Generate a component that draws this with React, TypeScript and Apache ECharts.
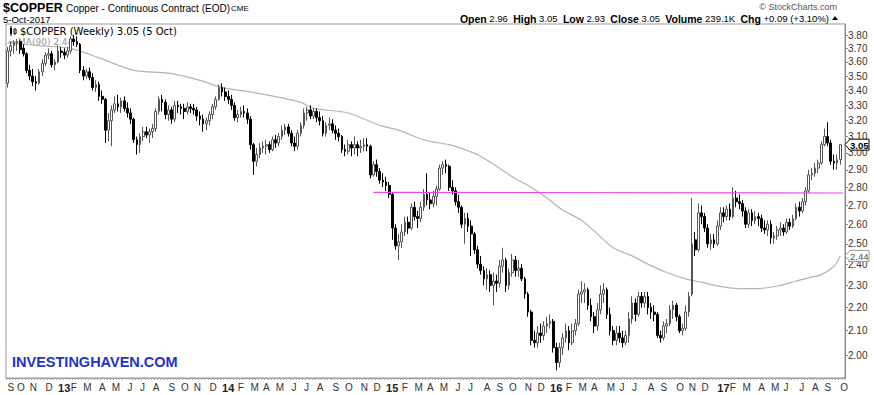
import React, { useEffect, useRef } from "react";
import * as echarts from "echarts";

// ---- weekly candles, first week ending 2012-09-14, last 2017-10-05 ----
const firstWeekUTC = Date.UTC(2012, 8, 14);
const categoryCount = 266; // 265 candles + one empty slot at the right edge

const opens = [
  3.45, 3.68, 3.72, 3.74, 3.75, 3.70, 3.66, 3.54, 3.50, 3.46,
  3.45, 3.53, 3.59, 3.65, 3.66, 3.58, 3.60, 3.68, 3.67, 3.65,
  3.68, 3.77, 3.75, 3.73, 3.54, 3.50, 3.53, 3.49, 3.42, 3.44,
  3.36, 3.34, 3.14, 3.20, 3.27, 3.31, 3.29, 3.33, 3.28, 3.25,
  3.21, 3.08, 3.05, 3.10, 3.13, 3.11, 3.13, 3.15, 3.26, 3.34,
  3.32, 3.24, 3.27, 3.21, 3.30, 3.29, 3.28, 3.26, 3.29, 3.28,
  3.27, 3.23, 3.21, 3.18, 3.20, 3.24, 3.29, 3.34, 3.42, 3.39,
  3.36, 3.34, 3.30, 3.22, 3.24, 3.26, 3.25, 3.21, 3.05, 2.95,
  2.99, 3.03, 3.04, 3.05, 3.02, 3.08, 3.06, 3.10, 3.14, 3.16,
  3.12, 3.06, 3.04, 3.12, 3.17, 3.25, 3.27, 3.23, 3.26, 3.22,
  3.20, 3.12, 3.17, 3.18, 3.14, 3.12, 3.10, 3.02, 3.01, 3.05,
  3.03, 3.05, 3.03, 3.04, 3.05, 3.04, 2.87, 2.93, 2.89, 2.84,
  2.83, 2.81, 2.76, 2.58, 2.49, 2.51, 2.56, 2.61, 2.58, 2.69,
  2.64, 2.63, 2.69, 2.76, 2.73, 2.71, 2.75, 2.79, 2.91, 2.93,
  2.92, 2.80, 2.78, 2.72, 2.69, 2.60, 2.63, 2.59, 2.55, 2.47,
  2.40, 2.37, 2.33, 2.35, 2.30, 2.32, 2.31, 2.39, 2.42, 2.30,
  2.36, 2.42, 2.37, 2.38, 2.33, 2.26, 2.18, 2.06, 2.05, 2.09,
  2.08, 2.12, 2.13, 2.14, 2.03, 1.97, 2.03, 2.07, 2.10, 2.05,
  2.10, 2.13, 2.26, 2.27, 2.28, 2.21, 2.16, 2.12, 2.19, 2.26,
  2.28, 2.17, 2.10, 2.06, 2.09, 2.07, 2.05, 2.08, 2.15, 2.22,
  2.17, 2.25, 2.22, 2.25, 2.20, 2.18, 2.17, 2.08, 2.07, 2.12,
  2.13, 2.19, 2.21, 2.16, 2.10, 2.11, 2.18, 2.26, 2.52, 2.47,
  2.66, 2.64, 2.58, 2.50, 2.52, 2.50, 2.59, 2.66, 2.64, 2.68,
  2.64, 2.74, 2.72, 2.71, 2.67, 2.60, 2.66, 2.62, 2.64, 2.63,
  2.58, 2.57, 2.60, 2.53, 2.54, 2.57, 2.58, 2.56, 2.61, 2.59,
  2.63, 2.69, 2.67, 2.72, 2.78, 2.87, 2.88, 2.91, 2.94, 3.05,
  3.10, 3.06, 2.95, 2.94, 2.96,
];

const highs = [
  3.71, 3.75, 3.76, 3.77, 3.76, 3.73, 3.67, 3.58, 3.55, 3.50,
  3.55, 3.62, 3.67, 3.70, 3.68, 3.62, 3.72, 3.71, 3.70, 3.71,
  3.79, 3.80, 3.79, 3.74, 3.57, 3.55, 3.56, 3.52, 3.47, 3.46,
  3.40, 3.35, 3.25, 3.30, 3.36, 3.37, 3.35, 3.36, 3.32, 3.28,
  3.22, 3.10, 3.12, 3.16, 3.16, 3.15, 3.18, 3.28, 3.36, 3.37,
  3.34, 3.30, 3.29, 3.33, 3.33, 3.31, 3.31, 3.32, 3.31, 3.31,
  3.29, 3.26, 3.24, 3.22, 3.26, 3.31, 3.36, 3.44, 3.45, 3.42,
  3.40, 3.37, 3.32, 3.27, 3.29, 3.30, 3.28, 3.23, 3.06, 3.03,
  3.06, 3.07, 3.08, 3.07, 3.10, 3.11, 3.12, 3.17, 3.18, 3.18,
  3.14, 3.10, 3.14, 3.19, 3.28, 3.29, 3.30, 3.28, 3.28, 3.26,
  3.23, 3.19, 3.22, 3.21, 3.17, 3.15, 3.11, 3.05, 3.08, 3.07,
  3.10, 3.07, 3.08, 3.09, 3.09, 3.05, 2.95, 2.96, 2.91, 2.88,
  2.86, 2.83, 2.77, 2.60, 2.55, 2.60, 2.64, 2.64, 2.71, 2.72,
  2.67, 2.72, 2.79, 2.88, 2.77, 2.78, 2.81, 2.93, 2.95, 2.96,
  2.93, 2.84, 2.80, 2.76, 2.70, 2.66, 2.66, 2.62, 2.56, 2.49,
  2.44, 2.39, 2.38, 2.37, 2.36, 2.35, 2.42, 2.48, 2.43, 2.38,
  2.45, 2.44, 2.42, 2.40, 2.34, 2.27, 2.19, 2.10, 2.12, 2.13,
  2.14, 2.16, 2.17, 2.15, 2.05, 2.05, 2.09, 2.13, 2.12, 2.13,
  2.15, 2.28, 2.32, 2.31, 2.29, 2.24, 2.18, 2.22, 2.30, 2.31,
  2.29, 2.20, 2.12, 2.12, 2.12, 2.10, 2.10, 2.18, 2.25, 2.24,
  2.27, 2.27, 2.27, 2.27, 2.22, 2.21, 2.18, 2.10, 2.14, 2.15,
  2.21, 2.23, 2.22, 2.17, 2.13, 2.21, 2.27, 2.74, 2.56, 2.71,
  2.70, 2.66, 2.60, 2.55, 2.55, 2.62, 2.69, 2.69, 2.70, 2.71,
  2.80, 2.78, 2.76, 2.73, 2.69, 2.68, 2.68, 2.67, 2.66, 2.65,
  2.62, 2.62, 2.62, 2.56, 2.59, 2.61, 2.60, 2.63, 2.63, 2.65,
  2.71, 2.72, 2.74, 2.80, 2.90, 2.91, 2.94, 2.96, 3.07, 3.15,
  3.19, 3.08, 2.99, 2.99, 3.05,
];

const lows = [
  3.42, 3.64, 3.66, 3.68, 3.66, 3.64, 3.52, 3.47, 3.43, 3.40,
  3.44, 3.50, 3.57, 3.62, 3.56, 3.54, 3.59, 3.63, 3.62, 3.63,
  3.66, 3.72, 3.71, 3.52, 3.47, 3.48, 3.47, 3.40, 3.39, 3.33,
  3.31, 3.06, 3.07, 3.04, 3.25, 3.26, 3.25, 3.26, 3.22, 3.18,
  3.06, 2.99, 3.00, 3.07, 3.09, 3.06, 3.09, 3.13, 3.24, 3.26,
  3.21, 3.20, 3.18, 3.19, 3.25, 3.24, 3.21, 3.24, 3.25, 3.24,
  3.20, 3.17, 3.13, 3.14, 3.17, 3.21, 3.27, 3.33, 3.36, 3.33,
  3.31, 3.27, 3.20, 3.19, 3.22, 3.22, 3.18, 3.02, 2.87, 2.92,
  2.97, 3.00, 2.99, 3.00, 3.01, 3.03, 3.04, 3.08, 3.11, 3.10,
  3.04, 3.01, 3.02, 3.10, 3.15, 3.20, 3.21, 3.21, 3.19, 3.17,
  3.10, 3.10, 3.14, 3.12, 3.08, 3.07, 3.00, 2.98, 2.99, 2.98,
  2.99, 2.98, 3.00, 3.01, 3.01, 2.85, 2.86, 2.86, 2.82, 2.80,
  2.78, 2.74, 2.52, 2.47, 2.42, 2.48, 2.54, 2.55, 2.57, 2.62,
  2.58, 2.61, 2.67, 2.70, 2.68, 2.69, 2.70, 2.78, 2.87, 2.88,
  2.78, 2.76, 2.70, 2.66, 2.58, 2.50, 2.56, 2.44, 2.45, 2.38,
  2.35, 2.30, 2.28, 2.27, 2.21, 2.27, 2.29, 2.36, 2.27, 2.28,
  2.34, 2.34, 2.34, 2.32, 2.24, 2.16, 2.04, 2.03, 2.03, 2.05,
  2.06, 2.09, 2.11, 2.01, 1.94, 1.95, 2.00, 2.05, 2.02, 2.04,
  2.08, 2.12, 2.22, 2.22, 2.19, 2.14, 2.09, 2.10, 2.17, 2.22,
  2.15, 2.08, 2.04, 2.04, 2.05, 2.03, 2.04, 2.05, 2.13, 2.14,
  2.16, 2.20, 2.20, 2.17, 2.15, 2.14, 2.07, 2.05, 2.06, 2.09,
  2.12, 2.15, 2.14, 2.09, 2.08, 2.10, 2.16, 2.25, 2.44, 2.46,
  2.60, 2.56, 2.48, 2.47, 2.48, 2.49, 2.57, 2.61, 2.62, 2.62,
  2.63, 2.69, 2.68, 2.64, 2.58, 2.58, 2.59, 2.60, 2.59, 2.56,
  2.55, 2.54, 2.50, 2.50, 2.52, 2.54, 2.54, 2.55, 2.57, 2.58,
  2.62, 2.64, 2.66, 2.70, 2.77, 2.84, 2.86, 2.88, 2.93, 3.04,
  3.04, 2.93, 2.90, 2.90, 2.93,
];

const closes = [
  3.68, 3.72, 3.74, 3.75, 3.69, 3.66, 3.54, 3.50, 3.46, 3.45,
  3.53, 3.59, 3.65, 3.66, 3.58, 3.60, 3.68, 3.67, 3.65, 3.68,
  3.77, 3.75, 3.73, 3.54, 3.50, 3.53, 3.49, 3.42, 3.44, 3.36,
  3.34, 3.14, 3.20, 3.27, 3.31, 3.29, 3.33, 3.28, 3.25, 3.21,
  3.08, 3.05, 3.10, 3.13, 3.11, 3.13, 3.15, 3.26, 3.34, 3.32,
  3.24, 3.27, 3.21, 3.30, 3.29, 3.28, 3.26, 3.29, 3.28, 3.27,
  3.23, 3.21, 3.18, 3.20, 3.24, 3.29, 3.34, 3.42, 3.39, 3.36,
  3.34, 3.30, 3.22, 3.24, 3.26, 3.25, 3.21, 3.05, 2.95, 2.99,
  3.03, 3.04, 3.05, 3.02, 3.08, 3.06, 3.10, 3.14, 3.16, 3.12,
  3.06, 3.04, 3.12, 3.17, 3.25, 3.27, 3.23, 3.26, 3.22, 3.20,
  3.12, 3.17, 3.18, 3.14, 3.12, 3.10, 3.02, 3.01, 3.05, 3.03,
  3.05, 3.03, 3.04, 3.05, 3.04, 2.87, 2.93, 2.89, 2.84, 2.83,
  2.81, 2.76, 2.58, 2.49, 2.51, 2.56, 2.61, 2.58, 2.69, 2.64,
  2.63, 2.69, 2.76, 2.73, 2.71, 2.75, 2.79, 2.91, 2.93, 2.92,
  2.80, 2.78, 2.72, 2.69, 2.60, 2.63, 2.59, 2.55, 2.47, 2.40,
  2.37, 2.33, 2.35, 2.30, 2.32, 2.31, 2.39, 2.42, 2.30, 2.36,
  2.42, 2.37, 2.38, 2.33, 2.26, 2.18, 2.06, 2.05, 2.09, 2.08,
  2.12, 2.13, 2.14, 2.03, 1.97, 2.03, 2.07, 2.10, 2.05, 2.10,
  2.13, 2.26, 2.27, 2.28, 2.21, 2.16, 2.12, 2.19, 2.26, 2.28,
  2.17, 2.10, 2.06, 2.09, 2.07, 2.05, 2.08, 2.15, 2.22, 2.17,
  2.25, 2.22, 2.25, 2.20, 2.18, 2.17, 2.08, 2.07, 2.12, 2.13,
  2.19, 2.21, 2.16, 2.10, 2.11, 2.18, 2.25, 2.50, 2.47, 2.66,
  2.64, 2.58, 2.50, 2.52, 2.50, 2.59, 2.66, 2.64, 2.68, 2.64,
  2.74, 2.72, 2.71, 2.67, 2.60, 2.66, 2.62, 2.64, 2.63, 2.58,
  2.57, 2.60, 2.53, 2.54, 2.57, 2.58, 2.56, 2.61, 2.59, 2.63,
  2.69, 2.67, 2.72, 2.78, 2.87, 2.88, 2.91, 2.94, 3.05, 3.10,
  3.06, 2.95, 2.94, 2.96, 3.05,
];

// MA(90): [week index, value]
const maPoints: [number, number][] = [
  [0, 3.74], [10, 3.72], [20, 3.70], [29, 3.63], [40, 3.54], [51, 3.52],
  [61, 3.47], [68, 3.42], [77, 3.39], [87, 3.35], [93, 3.32], [97, 3.28],
  [108, 3.25], [118, 3.17], [124, 3.14], [129, 3.10], [134, 3.07],
  [140, 3.05], [145, 3.02], [150, 2.98], [155, 2.92], [160, 2.86],
  [166, 2.80], [171, 2.74], [176, 2.675], [182, 2.62], [187, 2.55],
  [192, 2.48], [198, 2.44], [203, 2.40], [209, 2.36], [215, 2.33],
  [220, 2.315], [226, 2.295], [232, 2.285], [238, 2.285], [245, 2.30],
  [250, 2.32], [254, 2.335], [258, 2.35], [262, 2.39], [264, 2.44],
];

// user-drawn horizontal trend line (magenta)
const trendLine: [number, number][] = [[116, 2.772], [265, 2.768]];

const yTickValues = [
  2.0, 2.1, 2.2, 2.3, 2.4, 2.5, 2.6, 2.7, 2.8, 2.9, 3.0,
  3.1, 3.2, 3.3, 3.4, 3.5, 3.6, 3.7, 3.8,
];
const monthLetters = ["J", "F", "M", "A", "M", "J", "J", "A", "S", "O", "N", "D"];

const FONT = '"Liberation Sans", Arial, sans-serif';

function buildWeeks(): string[] {
  const out: string[] = [];
  for (let i = 0; i < categoryCount; i++) {
    const d = new Date(firstWeekUTC + i * 7 * 86400000);
    out.push(d.toISOString().slice(0, 10));
  }
  return out;
}

export default function App() {
  const ref = useRef<HTMLDivElement>(null);

  useEffect(() => {
    const el = ref.current!;
    const chart = echarts.init(el, null, { renderer: "svg" });
    const weeks = buildWeeks();
    const monthOf = (s: string) => parseInt(s.slice(5, 7), 10) - 1;
    const candleData = opens.map((o, i) => [o, closes[i], lows[i], highs[i]]);

    const staticGraphics: any[] = [
      { type: "text", x: 3, y: 1, style: { text: "$COPPER", font: `bold 12.5px ${FONT}`, fill: "#000" } },
      { type: "text", x: 66, y: 3, style: { text: "Copper - Continuous Contract (EOD)", font: `10px ${FONT}`, fill: "#000" } },
      { type: "text", x: 231, y: 4, style: { text: "CME", font: `8px ${FONT}`, fill: "#000" } },
      { type: "text", x: 3, y: 14.5, style: { text: "5-Oct-2017", font: `9.5px ${FONT}`, fill: "#000" } },
      { type: "text", x: 837, y: 2, style: { text: "© StockCharts.com", font: `9px ${FONT}`, fill: "#555", align: "right" } },
      {
        type: "text", x: 829, y: 13,
        style: {
          text: "{b|Open} 2.96  {b|High} 3.05  {b|Low} 2.93  {b|Close} 3.05  {b|Volume} 239.1K  {b|Chg} +0.09 (+3.10%)",
          font: `9.5px ${FONT}`, fill: "#000", align: "right",
          rich: { b: { fontWeight: "bold", fontSize: 10.5, fontFamily: "Liberation Sans, Arial, sans-serif" } },
        },
      },
      { type: "polygon", shape: { points: [[832, 20], [838, 20], [835, 16]] }, style: { fill: "#000" } },
      // legend glyph
      { type: "rect", shape: { x: 10, y: 28, width: 2, height: 6 }, style: { fill: "#000" } },
      { type: "line", shape: { x1: 11, y1: 26, x2: 11, y2: 36 }, style: { stroke: "#000", lineWidth: 1 } },
      { type: "rect", shape: { x: 14, y: 29, width: 2, height: 5 }, style: { fill: "#fff", stroke: "#000", lineWidth: 1 } },
      { type: "text", x: 20, y: 26, style: { text: "$COPPER (Weekly) 3.05 (5 Oct)", font: '10px "DejaVu Sans", Verdana, sans-serif', fill: "#000" } },
      { type: "line", shape: { x1: 9, y1: 42, x2: 17, y2: 42 }, style: { stroke: "#aaa", lineWidth: 1.5 } },
      { type: "text", x: 18, y: 37, style: { text: "MA(90) 2.44", font: '9px "DejaVu Sans", Verdana, sans-serif', fill: "#999" } },
      { type: "text", x: 12, y: 354, style: { text: "INVESTINGHAVEN.COM", font: `bold 14.5px ${FONT}`, fill: "#2233cc" } },
    ];

    const option: any = {
      animation: false,
      backgroundColor: "#fff",
      grid: {
        left: 6, right: 29, top: 24, bottom: 17,
        show: true, borderColor: "#999", borderWidth: 1,
        containLabel: false, outerBoundsMode: "none",
      },
      xAxis: {
        type: "category",
        data: weeks,
        boundaryGap: true,
        axisLine: { show: true, lineStyle: { color: "#999" } },
        axisTick: { show: true, interval: 0, length: 2, lineStyle: { color: "#aaa" } },
        axisLabel: {
          interval: (index: number, value: string) =>
            index < closes.length && (index === 0 || monthOf(value) !== monthOf(weeks[index - 1])),
          formatter: (value: string) => {
            const m = monthOf(value);
            if (m === 0) return `{y|${value.slice(2, 4)}}`;
            return monthLetters[m];
          },
          align: "left",
          margin: 4,
          color: "#333",
          fontSize: 10,
          fontFamily: FONT,
          rich: { y: { fontWeight: "bold", fontSize: 11, fontFamily: FONT, color: "#222" } },
        },
        splitLine: { show: false },
      },
      yAxis: {
        type: "log",
        logBase: 10,
        position: "right",
        min: 1.91,
        max: 3.885,
        axisLine: { show: true, lineStyle: { color: "#888" } },
        axisTick: { show: true, length: 3, customValues: yTickValues, lineStyle: { color: "#888" } },
        axisLabel: {
          customValues: yTickValues,
          formatter: (v: number) => v.toFixed(2),
          color: "#333",
          fontSize: 10,
          fontFamily: FONT,
          margin: 3,
        },
        splitLine: { show: false },
      },
      series: [
        {
          type: "line",
          data: maPoints,
          smooth: 0.3,
          showSymbol: false,
          symbol: "none",
          lineStyle: { color: "#b4b4b4", width: 1.2 },
          z: 1,
        },
        {
          type: "candlestick",
          data: candleData,
          barWidth: 2.2,
          itemStyle: {
            color: "#fff",
            color0: "#000",
            borderColor: "#555",
            borderColor0: "#000",
            borderWidth: 1,
          },
          z: 3,
        },
        {
          type: "line",
          data: trendLine,
          showSymbol: false,
          symbol: "none",
          lineStyle: { color: "#ee44ee", width: 1.2 },
          z: 4,
        },
      ],
      graphic: staticGraphics,
    };

    chart.setOption(option);

    const tag = (price: number, label: string, border: string, textColor: string, bold: boolean) => {
      const y = chart.convertToPixel({ yAxisIndex: 0 }, price) as number;
      const x0 = 845;
      return [
        {
          type: "polygon", z: 100,
          shape: { points: [[x0, y], [x0 + 5, y - 5.5], [x0 + 24, y - 5.5], [x0 + 24, y + 5.5], [x0 + 5, y + 5.5]] },
          style: { fill: "#fff", stroke: border, lineWidth: 1 },
        },
        {
          type: "text", z: 101, x: x0 + 5, y: y - 4.5,
          style: { text: label, font: `${bold ? "bold " : ""}9.5px ${FONT}`, fill: textColor },
        },
      ];
    };

    chart.setOption({
      graphic: [
        ...staticGraphics,
        ...tag(maPoints[maPoints.length - 1][1], "2.44", "#999", "#555", false),
        ...tag(closes[closes.length - 1], "3.05", "#000", "#000", true),
      ],
    });

    return () => chart.dispose();
  }, []);

  return (
    <div
      ref={ref}
      style={{ position: "fixed", left: 0, top: 0, width: 874, height: 395, background: "#fff" }}
    />
  );
}
